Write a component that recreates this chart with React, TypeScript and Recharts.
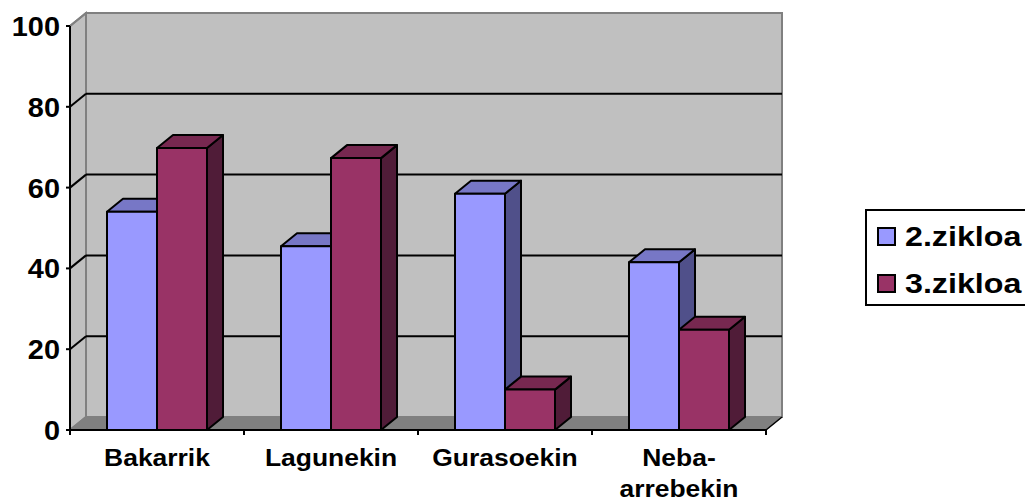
import { BarChart, Bar, XAxis, YAxis, CartesianGrid, Legend, usePlotArea } from 'recharts';

const categories = ['Bakarrik', 'Lagunekin', 'Gurasoekin', 'Neba-arrebekin'];
const zikloa2 = [54, 45.5, 58.5, 41.5];
const zikloa3 = [69.8, 67.3, 10, 24.8];
const yTicks = [0, 20, 40, 60, 80, 100];

const tableData = categories.map((name, i) => ({ name, zikloa2: zikloa2[i], zikloa3: zikloa3[i] }));

const WIDTH = 1025;
const HEIGHT = 501;
const MARGIN = { top: 26, right: 259, left: 0, bottom: 0 };
const AXIS_W = 70;
const AXIS_H = 71;
const DX = 16;
const DY = -13;
const STRETCH = 1.15; // the reference text is wider than the font
const WALL = '#C0C0C0';
const WALL_EDGE = '#808080';
const FONT = '"Liberation Sans", Arial, sans-serif';

const BLUE = { front: '#9999FF', top: '#7777C6', side: '#50508A' };
const MAROON = { front: '#993366', top: '#772850', side: '#501C38' };

// back wall, left wall and floor of the 3d box
const Walls = () => {
    const plot = usePlotArea();
    if (!plot) return null;
    const { x, y, width, height } = plot;
    const bottom = y + height;
    const right = x + width;
    return (
        <g>
            <rect x={x + DX} y={y + DY} width={width} height={height} fill={WALL} stroke={WALL_EDGE} strokeWidth={2} />
            <polygon
                points={`${x},${y} ${x + DX},${y + DY} ${x + DX},${bottom + DY} ${x},${bottom}`}
                fill={WALL}
                stroke={WALL_EDGE}
                strokeWidth={2}
            />
            <polygon
                points={`${x},${bottom} ${right},${bottom} ${right + DX},${bottom + DY} ${x + DX},${bottom + DY}`}
                fill={WALL_EDGE}
                stroke={WALL_EDGE}
                strokeWidth={1}
            />
            <line x1={right} y1={bottom} x2={right + DX} y2={bottom + DY} stroke="#000" strokeWidth={1.5} />
        </g>
    );
};

const gridLine = (props: any) => {
    const { x1, x2, y1, key } = props;
    const isEdge = y1 <= MARGIN.top + 1 || y1 >= HEIGHT - AXIS_H - 1;
    return (
        <g key={key}>
            <line x1={x1} y1={y1} x2={x1 + DX} y2={y1 + DY} stroke={isEdge ? WALL_EDGE : '#000'} strokeWidth={2} />
            {!isEdge && <line x1={x1 + DX} y1={y1 + DY} x2={x2 + DX} y2={y1 + DY} stroke="#000" strokeWidth={2} />}
        </g>
    );
};

const Box3D = (colors: typeof BLUE) => (props: any) => {
    const { x, y, width, height } = props;
    const r = x + width;
    const b = y + height;
    return (
        <g stroke="#000" strokeWidth={2} strokeLinejoin="round">
            <polygon points={`${r},${y} ${r + DX},${y + DY} ${r + DX},${b + DY} ${r},${b}`} fill={colors.side} />
            <polygon points={`${x},${y} ${x + DX},${y + DY} ${r + DX},${y + DY} ${r},${y}`} fill={colors.top} />
            <rect x={x} y={y} width={width} height={height} fill={colors.front} />
        </g>
    );
};

const YTick = ({ x, y, payload }: any) => (
    <g>
        <line x1={x - 4} y1={y} x2={x} y2={y} stroke="#000" strokeWidth={2} />
        <text
            transform={`translate(${x - 10},${y + 10}) scale(1.07,1)`}
            textAnchor="end"
            fontFamily={FONT}
            fontWeight="bold"
            fontSize={27}
            fill="#000"
        >
            {payload.value}
        </text>
    </g>
);

const XTick = ({ x, y, payload, index }: any) => {
    const band = (WIDTH - AXIS_W - MARGIN.right) / categories.length;
    const value: string = payload.value;
    const lines = value.includes('-') ? [value.slice(0, value.indexOf('-') + 1), value.slice(value.indexOf('-') + 1)] : [value];
    return (
        <g>
            <line x1={x - band / 2} y1={y} x2={x - band / 2} y2={y + 5} stroke="#000" strokeWidth={2} />
            {index === categories.length - 1 && (
                <line x1={x + band / 2} y1={y} x2={x + band / 2} y2={y + 5} stroke="#000" strokeWidth={2} />
            )}
            {lines.map((line, i) => (
                <text
                    key={line}
                    transform={`translate(${x},${y + 36 + i * 31}) scale(${STRETCH},1)`}
                    textAnchor="middle"
                    fontFamily={FONT}
                    fontWeight="bold"
                    fontSize={23}
                    fill="#000"
                >
                    {line}
                </text>
            ))}
        </g>
    );
};

const LegendBox = ({ payload }: any) => (
    <div style={{ boxSizing: 'border-box', width: 170, height: 97, border: '2px solid #000', background: '#fff', paddingTop: 2 }}>
        {(payload || []).map((entry: any) => (
            <div key={entry.value} style={{ display: 'flex', alignItems: 'center', height: 47 }}>
                <span
                    style={{
                        boxSizing: 'border-box',
                        width: 19,
                        height: 19,
                        marginLeft: 10,
                        marginRight: 9,
                        border: '2px solid #000',
                        background: entry.color,
                    }}
                />
                <span
                    style={{
                        fontFamily: FONT,
                        fontWeight: 'bold',
                        fontSize: 28,
                        color: '#000',
                        transform: `scaleX(${STRETCH})`,
                        transformOrigin: 'left center',
                    }}
                >
                    {entry.value}
                </span>
            </div>
        ))}
    </div>
);

export default function App() {
    return (
        <div style={{ position: 'absolute', left: 0, top: 0, width: WIDTH, height: HEIGHT, overflow: 'hidden', background: '#fff' }}>
            <BarChart width={WIDTH} height={HEIGHT} data={tableData} margin={MARGIN} barSize={50} barGap={0}>
                <Walls />
                <CartesianGrid vertical={false} horizontal={gridLine} stroke="#000" zIndex={1} />
                <XAxis
                    dataKey="name"
                    height={AXIS_H}
                    interval={0}
                    tickLine={false}
                    tickSize={0}
                    tickMargin={0}
                    axisLine={{ stroke: '#000', strokeWidth: 2 }}
                    tick={<XTick />}
                />
                <YAxis
                    width={AXIS_W}
                    domain={[0, 100]}
                    ticks={yTicks}
                    tickLine={false}
                    tickSize={0}
                    tickMargin={0}
                    axisLine={{ stroke: '#000', strokeWidth: 2 }}
                    tick={<YTick />}
                />
                <Legend
                    layout="horizontal"
                    align="center"
                    verticalAlign="middle"
                    wrapperStyle={{ position: 'absolute', left: 865, top: 209, width: 170, height: 97 }}
                    content={<LegendBox />}
                />
                <Bar dataKey="zikloa2" name="2.zikloa" fill={BLUE.front} isAnimationActive={false} shape={Box3D(BLUE)} />
                <Bar dataKey="zikloa3" name="3.zikloa" fill={MAROON.front} isAnimationActive={false} shape={Box3D(MAROON)} />
            </BarChart>
        </div>
    );
}
